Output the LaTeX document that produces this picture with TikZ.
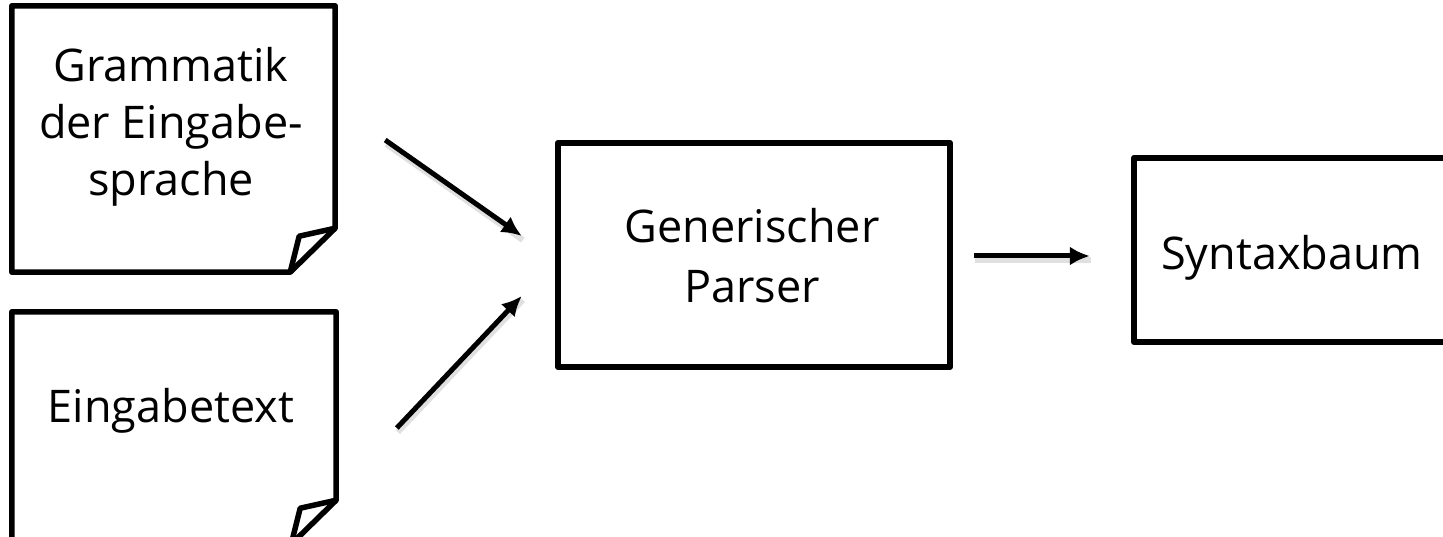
\documentclass[tikz,border=0pt]{standalone}
\usepackage{fontspec}
\setmainfont{Open Sans}
\usetikzlibrary{arrows.meta}
\begin{document}
\begin{tikzpicture}[x=1pt,y=-1pt,
  boxline/.style={draw=black, line width=5.5pt, line join=round},
  frame/.style={rectangle, inner sep=0pt, draw=none},
  label/.style={inner sep=0pt, align=center, font=\fontsize{45}{57}\selectfont},
  flow/.style={line width=5pt, -{Latex[length=20pt,width=19pt]}},
  flowshade/.style={line width=6pt, black, opacity=0.12},
]
\useasboundingbox (0,0) rectangle (1443,537);
\clip (0,0) rectangle (1443,537);

% note sheets with a turned-up corner
\node[frame, minimum width=323, minimum height=266] (gram) at (173.5,139) {};
\node[frame, minimum width=324, minimum height=232] (input) at (174,428) {};
% plain boxes
\node[frame, minimum width=392, minimum height=224] (parser) at (754,255) {};
\node[frame, minimum width=316, minimum height=184] (tree) at (1292,250) {};

\foreach \n in {gram,input}{
  \draw[boxline] (\n.north west) -- (\n.north east)
    -- ([shift={(0,-44)}]\n.south east)
    -- ([shift={(-45,0)}]\n.south east)
    -- (\n.south west) -- cycle;
  \draw[boxline] ([shift={(0,-44)}]\n.south east)
    -- ([shift={(-36,-36)}]\n.south east)
    -- ([shift={(-45,0)}]\n.south east);
}
\draw[boxline] (parser.north west) rectangle (parser.south east);
\draw[boxline] (tree.north west) rectangle (tree.south east);

\node[label] (gramtext) at (171,127) {Grammatik\\der Eingabe-\\sprache};
\node[label] (inputtext) at (171,411) {Eingabetext};
\node[label, font=\fontsize{45}{60}\selectfont] (parsertext) at (752,256) {Generischer\\Parser};
\node[label] (treetext) at (1292,258) {Syntaxbaum};

% arrows between the parts
\coordinate (a1s) at ([shift={(50,1)}]gram.east);
\coordinate (a1e) at ([shift={(-36,-19)}]parser.west);
\coordinate (a2s) at ([shift={(385,0)}]input.west);
\coordinate (a2e) at ([shift={(-36,41)}]parser.west);
\coordinate (a3s) at ([shift={(24,1)}]parser.east);
\coordinate (a3e) at ([shift={(-44,6)}]tree.west);

\foreach \s/\e in {a1s/a1e,a2s/a2e,a3s/a3e}{
  \draw[flowshade] ([shift={(1,4)}]\s) -- ([shift={(1,4)}]\e);
  \draw[flow] (\s) -- (\e);
}
\end{tikzpicture}
\end{document}
